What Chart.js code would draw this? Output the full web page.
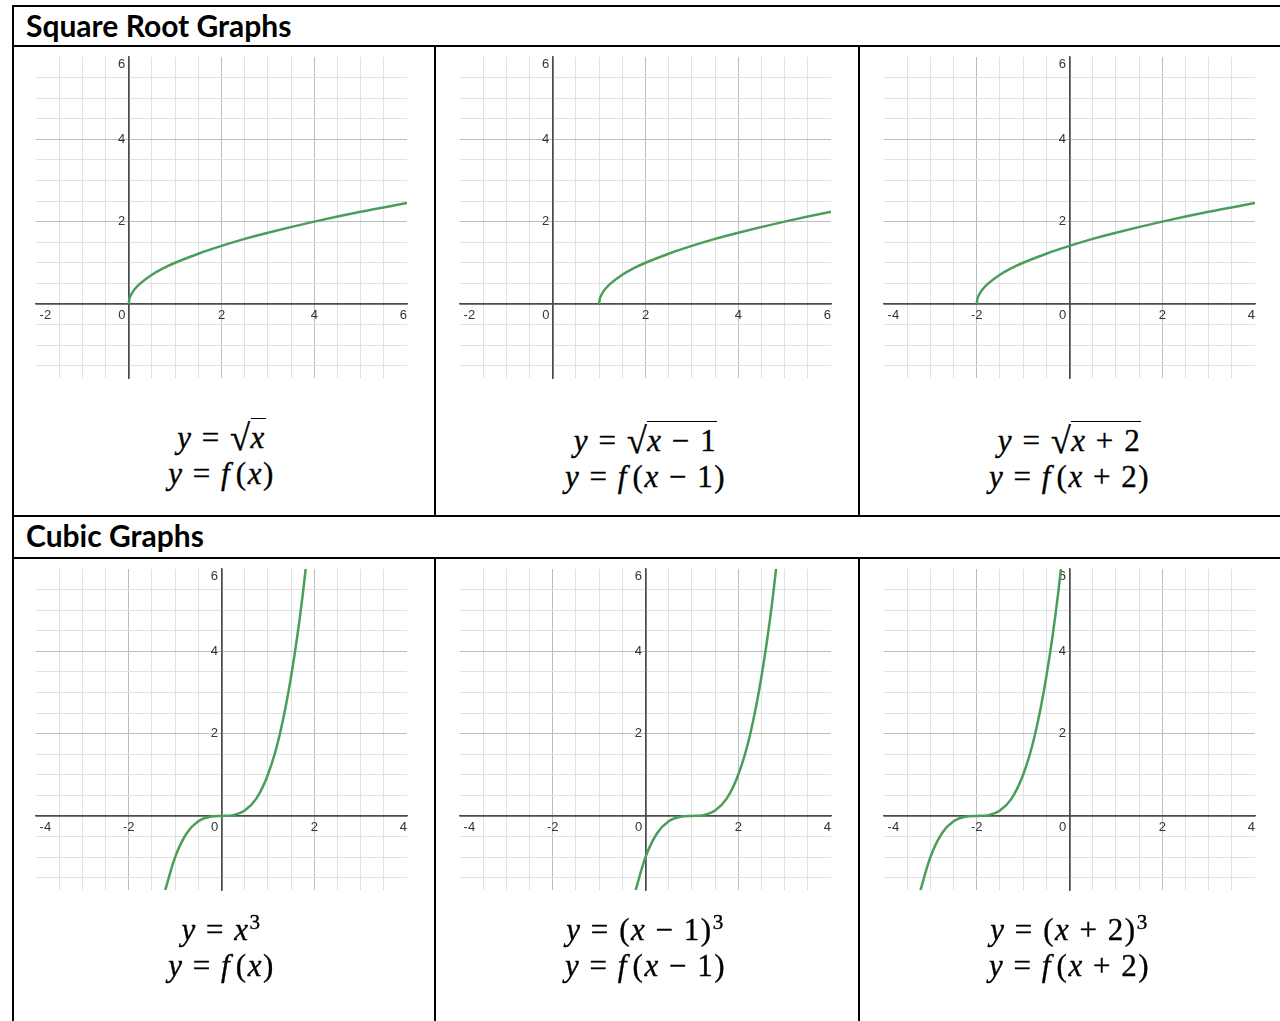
<!DOCTYPE html>
<html>
<head>
<meta charset="utf-8">
<script src="https://cdn.jsdelivr.net/npm/chart.js@4.4.1/dist/chart.umd.min.js"></script>
<style>
  html, body { margin: 0; padding: 0; background: #fff; }
  body { position: relative; width: 1280px; height: 1021px; overflow: hidden; }
  .rule { position: absolute; background: #000; }
  .head { position: absolute; left: 26px; font-family: Lato, "Open Sans", sans-serif; font-weight: 700; font-size: 30px; line-height: 30px; white-space: nowrap; }
  .plot { position: absolute; }
  .eq { position: absolute; width: 400px; text-align: center; font-family: "Liberation Serif", serif; font-size: 31px; line-height: 36px; letter-spacing: 1.5px; white-space: nowrap; -webkit-text-stroke: 0.35px #000; }
  .eq i { font-style: italic; }
  .op { margin: 0 0.3em; }
  .fn { margin-right: 0.15em; }
  .rad { font-size: 1.18em; display: inline-block; transform: translateY(2px); margin-right: -1px; }
  .ov { border-top: 1.5px solid #000; padding-top: 1px; }
  sup { font-size: 0.68em; line-height: 0; vertical-align: 0.5em; }
</style>
</head>
<body>
<script>
// grid spans of the six panels (units)
const xRanges = [[-2, 6], [-2, 6], [-4, 4], [-4, 4], [-4, 4], [-4, 4]];
const yRange = [-1.8, 6];

// where the gridlines sit
const xGridWide = [-2, -1.5, -1, -0.5, 0, 0.5, 1, 1.5, 2, 2.5, 3, 3.5, 4, 4.5, 5, 5.5, 6];
const xGridCentred = [-4, -3.5, -3, -2.5, -2, -1.5, -1, -0.5, 0, 0.5, 1, 1.5, 2, 2.5, 3, 3.5, 4];
const yGrid = [-1.5, -1, -0.5, 0, 0.5, 1, 1.5, 2, 2.5, 3, 3.5, 4, 4.5, 5, 5.5, 6];

// numbered ticks
const xLabelsWide = [-2, 2, 4, 6];
const xLabelsCentred = [-4, -2, 2, 4];
const yLabels = [2, 4, 6];
const originLabel = '0';

// y = sqrt(x) and its shifts
const sqrtX = [0, 0.01, 0.04, 0.09, 0.16, 0.25, 0.5, 0.75, 1, 1.5, 2, 2.5, 3, 4, 5, 6];
const sqrtRightX = [1, 1.01, 1.04, 1.09, 1.16, 1.25, 1.5, 1.75, 2, 2.5, 3, 3.5, 4, 5, 6, 7];
const sqrtLeftX = [-2, -1.99, -1.96, -1.91, -1.84, -1.75, -1.5, -1.25, -1, -0.5, 0, 0.5, 1, 2, 3, 4];
const sqrtY = [0, 0.1, 0.2, 0.3, 0.4, 0.5, 0.71, 0.87, 1, 1.22, 1.41, 1.58, 1.73, 2, 2.24, 2.45];

// y = x^3 and its shifts
const cubeX = [-1.25, -1, -0.75, -0.5, -0.25, 0, 0.25, 0.5, 0.75, 1, 1.25, 1.5, 1.75, 2];
const cubeRightX = [-0.25, 0, 0.25, 0.5, 0.75, 1, 1.25, 1.5, 1.75, 2, 2.25, 2.5, 2.75, 3];
const cubeLeftX = [-3.25, -3, -2.75, -2.5, -2.25, -2, -1.75, -1.5, -1.25, -1, -0.75, -0.5, -0.25, 0];
const cubeY = [-1.95, -1, -0.42, -0.13, -0.02, 0, 0.02, 0.13, 0.42, 1, 1.95, 3.38, 5.36, 8];

const curveX = [sqrtX, sqrtRightX, sqrtLeftX, cubeX, cubeRightX, cubeLeftX];
const curveY = [sqrtY, sqrtY, sqrtY, cubeY, cubeY, cubeY];

const Y = '<i>y</i><span class="op">=</span>';
const captions = [
  [Y + '<span class="rad">√</span><span class="ov"><i>x</i></span>', Y + '<i class="fn">f</i>(<i>x</i>)'],
  [Y + '<span class="rad">√</span><span class="ov"><i>x</i><span class="op">−</span>1</span>', Y + '<i class="fn">f</i>(<i>x</i><span class="op">−</span>1)'],
  [Y + '<span class="rad">√</span><span class="ov"><i>x</i><span class="op">+</span>2</span>', Y + '<i class="fn">f</i>(<i>x</i><span class="op">+</span>2)'],
  [Y + '<i>x</i><sup>3</sup>', Y + '<i class="fn">f</i>(<i>x</i>)'],
  [Y + '(<i>x</i><span class="op">−</span>1)<sup>3</sup>', Y + '<i class="fn">f</i>(<i>x</i><span class="op">−</span>1)'],
  [Y + '(<i>x</i><span class="op">+</span>2)<sup>3</sup>', Y + '<i class="fn">f</i>(<i>x</i><span class="op">+</span>2)']
];

// page layout
const PLOT_W = 371, PLOT_H = 321, PAD = 24;
const plotLeft = [36, 460, 884];
const plotTop = [57, 569];
const captionTop = [[418, 421, 421], [912, 912, 912]];

const curveColor = '#4a9e5a';
const axisColor = '#4d4d4d';
const majorColor = '#bdbdbd';
const minorColor = '#e1e1e1';
const labelColor = '#333';
const tickFont = { family: '"Liberation Sans", Arial, sans-serif', size: 13 };

// table frame
function rule(x, y, w, h) {
  const d = document.createElement('div');
  d.className = 'rule';
  Object.assign(d.style, { left: x + 'px', top: y + 'px', width: w + 'px', height: h + 'px' });
  document.body.appendChild(d);
}
rule(12, 5, 1268, 2);
rule(12, 45, 1268, 2);
rule(12, 515, 1268, 2);
rule(12, 557, 1268, 2);
rule(12, 5, 2, 1016);
rule(434, 45, 2, 472);
rule(858, 45, 2, 472);
rule(434, 557, 2, 464);
rule(858, 557, 2, 464);

function heading(text, top) {
  const d = document.createElement('div');
  d.className = 'head';
  d.style.top = top + 'px';
  d.textContent = text;
  document.body.appendChild(d);
}
heading('Square Root Graphs', 10);
heading('Cubic Graphs', 520);

function lineColor(v, lo, hi) {
  if (v === lo || v === hi) return 'rgba(0,0,0,0)';
  if (v === 0) return axisColor;
  return Math.abs(v % 2) < 1e-9 ? majorColor : minorColor;
}

function drawPanel(i) {
  const row = Math.floor(i / 3), col = i % 3;
  const [xMin, xMax] = xRanges[i];
  const xGrid = xMin === -2 ? xGridWide : xGridCentred;
  const xLabels = xMin === -2 ? xLabelsWide : xLabelsCentred;

  const box = document.createElement('div');
  box.className = 'plot';
  box.style.left = (plotLeft[col] - PAD) + 'px';
  box.style.top = (plotTop[row] - PAD) + 'px';
  const cv = document.createElement('canvas');
  cv.width = PLOT_W + 2 * PAD;
  cv.height = PLOT_H + 2 * PAD;
  box.appendChild(cv);
  document.body.appendChild(box);

  new Chart(cv, {
    type: 'scatter',
    data: {
      datasets: [{
        data: curveX[i].map((x, k) => ({ x, y: curveY[i][k] })),
        showLine: true,
        borderColor: curveColor,
        borderWidth: 2.5,
        pointRadius: 0,
        fill: false,
        cubicInterpolationMode: 'monotone'
      }]
    },
    options: {
      responsive: false,
      animation: false,
      devicePixelRatio: 1,
      events: [],
      layout: { padding: PAD },
      plugins: { legend: { display: false }, tooltip: { enabled: false } },
      scales: {
        x: {
          type: 'linear', min: xMin, max: xMax, position: { y: 0 },
          afterBuildTicks: s => { s.ticks = xGrid.map(v => ({ value: v })); },
          grid: {
            drawTicks: false,
            color: c => lineColor(c.tick.value, xMin, xMax),
            lineWidth: c => c.tick.value === 0 ? 1.5 : 1
          },
          border: { color: axisColor, width: 1.5 },
          ticks: {
            autoSkip: false, maxRotation: 0, align: 'inner', padding: 4,
            color: labelColor, font: tickFont,
            callback: v => {
              if (!xLabels.includes(v)) return '';
              return v === xMin ? ' ' + v : String(v);
            }
          }
        },
        origin: {
          type: 'linear', axis: 'x', min: xMin, max: xMax, position: { y: 0 },
          afterBuildTicks: s => { s.ticks = [{ value: 0 }]; },
          grid: { display: false, drawTicks: false },
          border: { display: false },
          ticks: { autoSkip: false, padding: 4, labelOffset: -7, color: labelColor, font: tickFont, callback: () => originLabel }
        },
        y: {
          type: 'linear', min: yRange[0], max: yRange[1], position: { x: 0 },
          afterBuildTicks: s => { s.ticks = yGrid.map(v => ({ value: v })); },
          grid: {
            drawTicks: false,
            color: c => lineColor(c.tick.value, yRange[0], yRange[1]),
            lineWidth: c => c.tick.value === 0 ? 1.5 : 1
          },
          border: { color: axisColor, width: 1.5 },
          ticks: {
            autoSkip: false, color: labelColor, font: tickFont,
            callback: v => {
              if (!yLabels.includes(v)) return '';
              // top label sits just under the edge; trailing space keeps digits off the axis
              return v === yRange[1] ? ['', v + ' '] : v + ' ';
            }
          }
        }
      }
    }
  });

  const cap = document.createElement('div');
  cap.className = 'eq';
  cap.style.left = (plotLeft[col] + PLOT_W / 2 - 200) + 'px';
  cap.style.top = captionTop[row][col] + 'px';
  cap.innerHTML = captions[i].join('<br>');
  document.body.appendChild(cap);
}

for (let i = 0; i < 6; i++) drawPanel(i);
</script>
</body>
</html>
